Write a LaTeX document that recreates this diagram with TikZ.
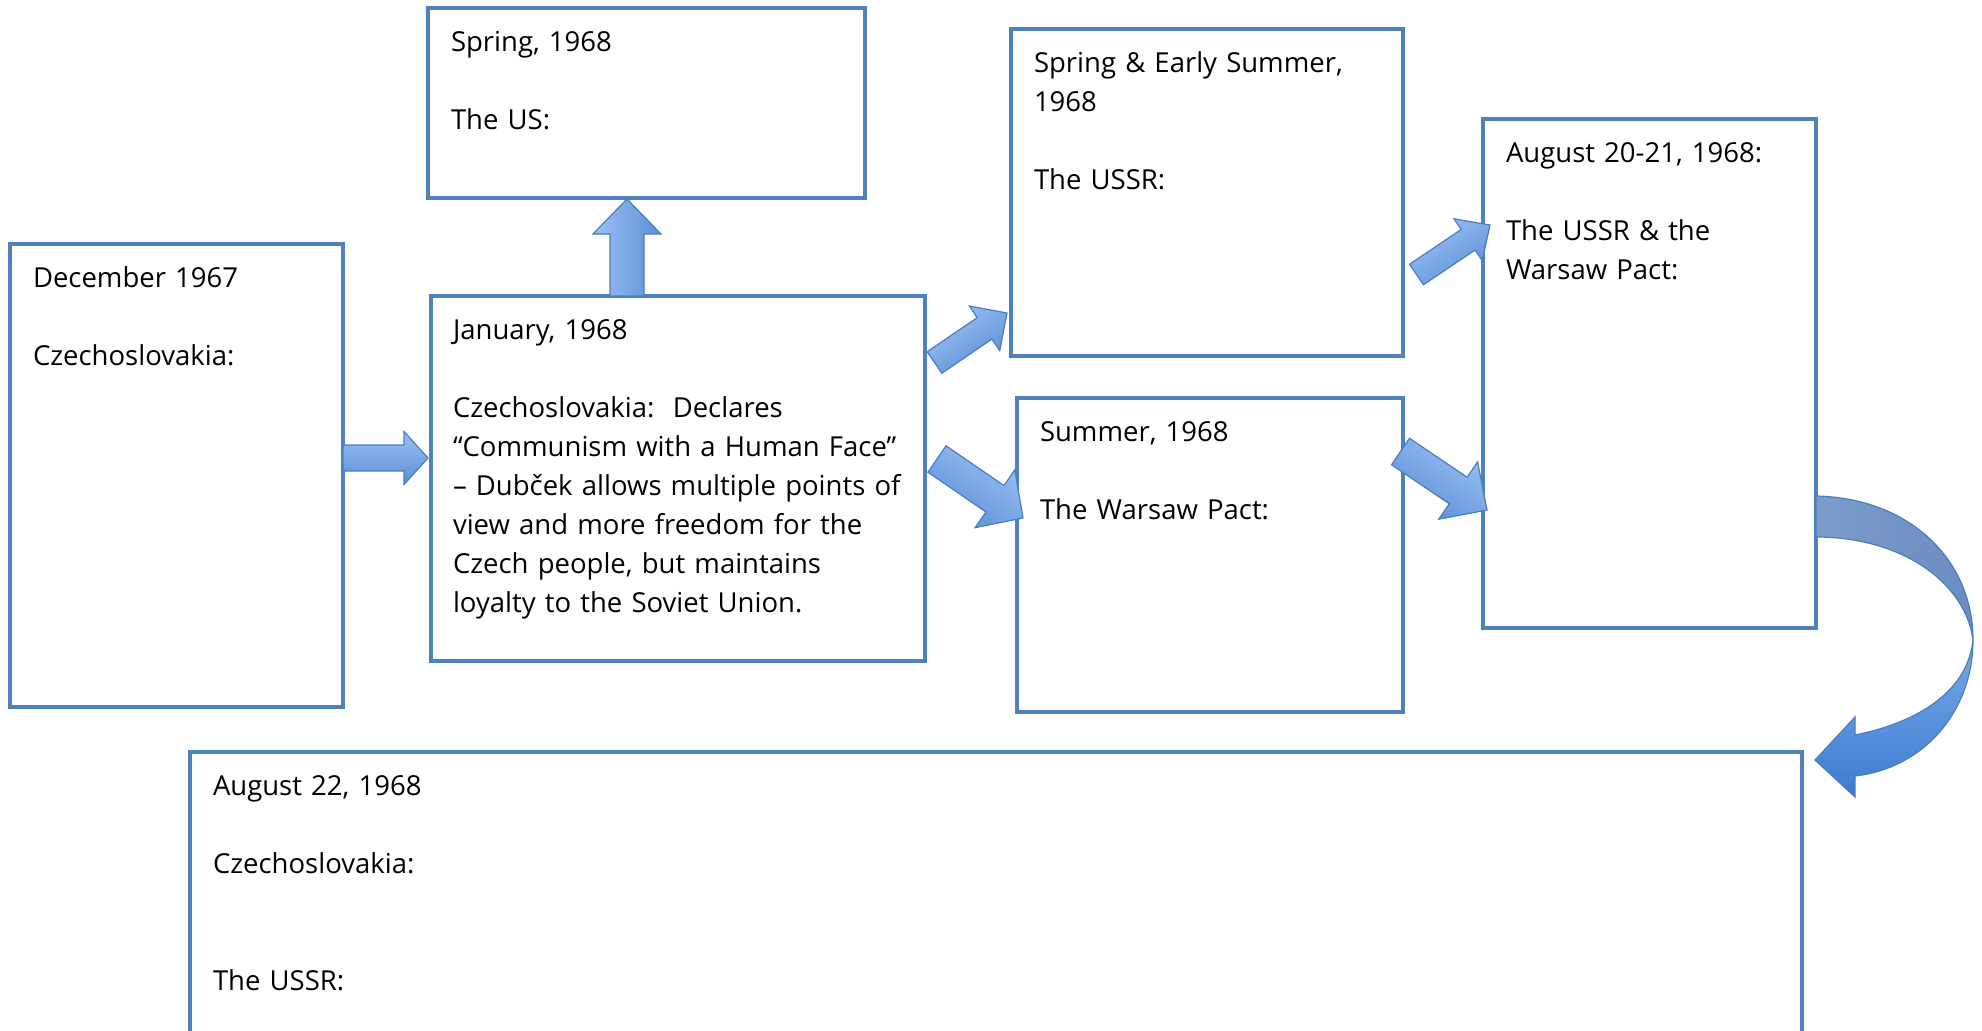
\documentclass[tikz,border=0pt]{standalone}
\usepackage{fontspec}
\setmainfont{Open Sans}
\usetikzlibrary{calc}
\definecolor{boxblue}{HTML}{4F81BD}
\definecolor{arrlight}{HTML}{9CC2F5}
\definecolor{arrdark}{HTML}{5B8ED6}
\definecolor{arredge}{HTML}{4A7EBF}
\definecolor{curvup}{HTML}{7C9DCC}
\definecolor{curvupd}{HTML}{6A8CC0}
\definecolor{curvlo}{HTML}{7AAAEB}
\definecolor{curvlod}{HTML}{3D7BCF}
\tikzset{
  boxst/.style={draw=boxblue, line width=2pt, fill=white, inner sep=0pt, outer sep=0pt, anchor=north west},
  txt/.style={anchor=north west, inner sep=0pt, outer sep=0pt, align=left, text width=#1,
    font=\fontsize{13.75pt}{19.5pt}\selectfont},
  txt/.default=230pt,
  blockarrow/.style={draw=arredge, line width=0.6pt, line join=miter, top color=arrlight, bottom color=arrdark},
  curvarrow/.style={draw=arredge, line width=0.6pt, line join=miter},
}
% #1 tail, #2 tip, #3 half shaft, #4 half head, #5 head length, #6 shading angle
\newcommand\blockarr[6]{%
  \coordinate (bh) at ($(#2)!#5!(#1)$);
  \draw[blockarrow, shading angle=#6] ($(#1)!#3!90:(#2)$) -- ($(bh)!#3!90:(#2)$) -- ($(bh)!#4!90:(#2)$) -- (#2)
    -- ($(bh)!#4!-90:(#2)$) -- ($(bh)!#3!-90:(#2)$) -- ($(#1)!#3!-90:(#2)$) -- cycle;}
\newcommand\mybox[5]{\node[boxst, minimum width=#4*0.5pt, minimum height=#5*0.5pt] (#1) at (#2,#3) {};}
\begin{document}
\begin{tikzpicture}[x=0.5pt,y=-0.5pt]
\useasboundingbox (0,0) rectangle (1982,1030);
\clip (0,0) rectangle (1982,1030);
% boxes
\mybox{dec}{10}{244}{333}{463}
\mybox{us}{428}{8}{437}{190}
\mybox{jan}{431}{296}{494}{365}
\mybox{spr}{1011}{29}{392}{327}
\mybox{sum}{1017}{398}{386}{314}
\mybox{aug}{1483}{119}{333}{509}
\mybox{atwo}{190}{752}{1612}{300}
% texts
\node[txt] (dec-t) at ($(dec.north west)+(23,15.7)$) {\strut December 1967\\[19.5pt]Czechoslovakia:};
\node[txt] (us-t) at ($(us.north west)+(23,15.7)$) {\strut Spring, 1968\\[19.5pt]The US:};
\node[txt=240pt] (jan-t) at ($(jan.north west)+(22,15.7)$) {\strut January, 1968\\[19.5pt]Czechoslovakia:\ \ Declares\\“Communism with a Human Face”\\– Dubček allows multiple points of\\view and more freedom for the\\Czech people, but maintains\\loyalty to the Soviet Union.};
\node[txt] (spr-t) at ($(spr.north west)+(23,15.7)$) {\strut Spring \& Early Summer,\\1968\\[19.5pt]The USSR:};
\node[txt] (sum-t) at ($(sum.north west)+(23,15.7)$) {\strut Summer, 1968\\[19.5pt]The Warsaw Pact:};
\node[txt] (aug-t) at ($(aug.north west)+(23,15.7)$) {\strut August 20-21, 1968:\\[19.5pt]The USSR \& the\\Warsaw Pact:};
\node[txt] (atwo-t) at ($(atwo.north west)+(23,15.7)$) {\strut August 22, 1968\\[19.5pt]Czechoslovakia:\\[39pt]The USSR:};
% arrow end points
\coordinate (a0t) at (343,458);   \coordinate (a0p) at (428,458);
\coordinate (a1t) at (627,296);   \coordinate (a1p) at (627,199);
\coordinate (a2t) at (934.5,362.5); \coordinate (a2p) at (1007,313);
\coordinate (a3t) at (937,459);   \coordinate (a3p) at (1023,518);
\coordinate (a4t) at (1416.5,274.5); \coordinate (a4p) at (1490,225);
\coordinate (a5t) at (1400.5,451.5); \coordinate (a5p) at (1487,510);
\blockarr{a0t}{a0p}{6.5pt}{13.25pt}{12pt}{0}
\blockarr{a1t}{a1p}{8.5pt}{17pt}{17.5pt}{90}
\blockarr{a2t}{a2p}{6.5pt}{13.5pt}{13.6pt}{34}
\blockarr{a3t}{a3p}{8pt}{17.5pt}{17pt}{-34}
\blockarr{a4t}{a4p}{6.2pt}{12.6pt}{13.2pt}{34}
\blockarr{a5t}{a5p}{8pt}{17.3pt}{17.4pt}{-34}
% curved arrow from aug to atwo
\coordinate (cs) at (aug.east |- 0,496);
\coordinate (ctip) at (1815,760);
\draw[curvarrow, left color=curvup, right color=curvupd] (cs) .. controls (1910,498) and (1973,560) .. (1973,640)
  .. controls (1966,585) and (1905,537) .. (1816,537) -- cycle;
\draw[curvarrow, top color=curvlo, bottom color=curvlod] (1973,640) .. controls (1973,710) and (1925,768) .. (1855,776)
  -- (1855,797) -- (ctip) -- (1855,717) -- (1855,735) .. controls (1920,722) and (1968,690) .. (1973,640) -- cycle;
\end{tikzpicture}
\end{document}
